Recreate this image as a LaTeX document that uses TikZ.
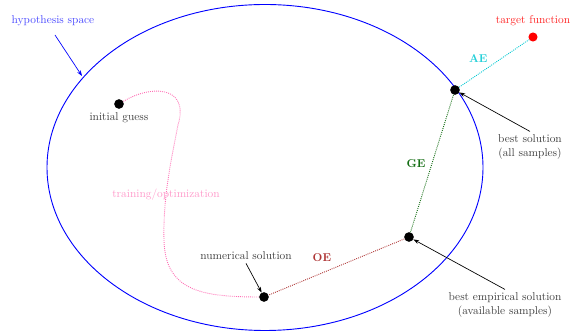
\documentclass[tikz,border=0pt]{standalone}
\usetikzlibrary{arrows.meta}
\definecolor{oecol}{RGB}{175,55,55}
\definecolor{gecol}{RGB}{20,110,20}
\definecolor{aecol}{RGB}{0,200,210}
\definecolor{trcol}{RGB}{255,110,180}
\begin{document}
\begin{tikzpicture}[x=0.88pt,y=-0.88pt,
  lbl/.style={text=black!75, font=\normalsize, align=center, inner sep=1pt},
  dot/.style={circle, fill=black, inner sep=0pt, minimum size=8.5pt},
  ptr/.style={-{Stealth[length=5pt,width=3.5pt]}, semithick},
  err/.style={densely dotted, thick}]
\useasboundingbox (0,0) rectangle (574,334);
\draw[blue, thick] (265,167.5) ellipse [x radius=218, y radius=163];
\coordinate (hsp) at (82,76);
\node[text=blue!70, inner sep=1pt] (hs) at (53,21) {hypothesis space};
\draw[ptr, blue] (55,35) -- (hsp);
% points
\node[dot] (ig) at (119,104) {};
\node[lbl, below=2pt] (igl) at (ig.south) {initial guess};
\node[dot] (bs) at (455,90) {};
\node[dot] (be) at (409,237) {};
\node[dot] (ns) at (264,297) {};
\node[circle, fill=red, inner sep=0pt, minimum size=8pt] (tf) at (533,37) {};
\node[text=red!85, inner sep=1pt] (tfl) at (533,21) {target function};
% errors
\draw[err, aecol] (bs) -- node[pos=0.45, above left=-1pt, font=\bfseries, text=aecol!85] {AE} (tf);
\draw[err, gecol] (bs) -- node[pos=0.5, left=2pt, font=\bfseries] {GE} (be);
\draw[err, oecol] (be) -- node[pos=0.5, above left=1pt, font=\bfseries] {OE} (ns);
% training path
\draw[trcol, densely dotted, thick] (ig) .. controls (150,85) and (190,85) .. (178,125)
   .. controls (170,165) and (163,200) .. (164,240)
   .. controls (165,290) and (200,297) .. (ns);
\node[text=trcol!70, inner sep=1pt] (tr) at (166,195) {training/optimization};
% labels with arrows
\node[lbl] (bsl) at (530,147) {best solution\\(all samples)};
\draw[ptr] (bsl.north) ++(0,-2) -- (bs);
\node[lbl] (bel) at (505,305) {best empirical solution\\(available samples)};
\draw[ptr] (bel.north) ++(0,-2) -- (be);
\node[lbl] (nsl) at (246,256) {numerical solution};
\draw[ptr] (nsl.south) ++(0,2) -- (ns);
\end{tikzpicture}
\end{document}
